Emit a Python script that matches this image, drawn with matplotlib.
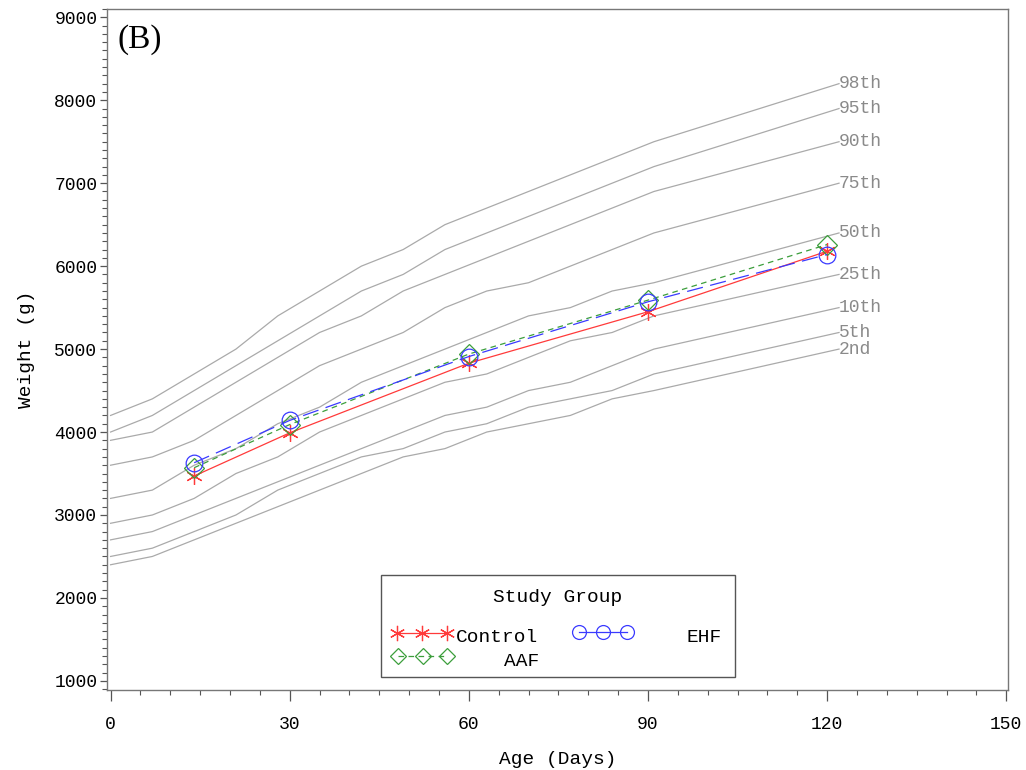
import matplotlib
matplotlib.use("Agg")
import matplotlib.pyplot as plt
from matplotlib.lines import Line2D
from matplotlib.patches import Rectangle
from matplotlib.ticker import MultipleLocator

# ---- reference percentile curves (days, weight in g) ----
ref_days = [0, 7, 14, 21, 28, 35, 42, 49, 56, 63, 70, 77, 84, 91, 122]
p98 = [4200, 4400, 4700, 5000, 5400, 5700, 6000, 6200, 6500, 6700, 6900, 7100, 7300, 7500, 8200]
p95 = [4000, 4200, 4500, 4800, 5100, 5400, 5700, 5900, 6200, 6400, 6600, 6800, 7000, 7200, 7900]
p90 = [3900, 4000, 4300, 4600, 4900, 5200, 5400, 5700, 5900, 6100, 6300, 6500, 6700, 6900, 7500]
p75 = [3600, 3700, 3900, 4200, 4500, 4800, 5000, 5200, 5500, 5700, 5800, 6000, 6200, 6400, 7000]
p50 = [3200, 3300, 3600, 3800, 4100, 4300, 4600, 4800, 5000, 5200, 5400, 5500, 5700, 5800, 6400]
p25 = [2900, 3000, 3200, 3500, 3700, 4000, 4200, 4400, 4600, 4700, 4900, 5100, 5200, 5400, 5900]
p10 = [2700, 2800, 3000, 3200, 3400, 3600, 3800, 4000, 4200, 4300, 4500, 4600, 4800, 5000, 5500]
p05 = [2500, 2600, 2800, 3000, 3300, 3500, 3700, 3800, 4000, 4100, 4300, 4400, 4500, 4700, 5200]
p02 = [2400, 2500, 2700, 2900, 3100, 3300, 3500, 3700, 3800, 4000, 4100, 4200, 4400, 4500, 5000]
pct_labels = ["98th", "95th", "90th", "75th", "50th", "25th", "10th", "5th", "2nd"]

# ---- study groups ----
visit_days = [14, 30, 60, 90, 120]
control = [3470, 3990, 4830, 5450, 6180]
aaf = [3570, 4090, 4940, 5590, 6260]
ehf = [3630, 4140, 4910, 5570, 6140]

mono = "Liberation Mono"
fig = plt.figure(figsize=(10.26, 7.70), dpi=100)
ax = fig.add_axes([107/1026, 1 - 690/770, (1008-107)/1026, (690-9)/770])

gray = "#aaaaaa"
for vals, lab in zip([p98, p95, p90, p75, p50, p25, p10, p05, p02], pct_labels):
    ax.plot(ref_days, vals, color=gray, lw=0.9, zorder=1)
    ax.text(ref_days[-1], vals[-1], lab, color="#8a8a8a", family=mono,
            fontsize=13, ha="left", va="center")

red, green, blue = "#ff3a3a", "#3c9e3c", "#3a3aff"
ax.plot(visit_days, control, color=red, lw=0.9, marker=(6, 2, 0), ms=12,
        mew=0.9, zorder=3)
ax.plot(visit_days, aaf, color=green, lw=0.9, dashes=(4.5, 3.5), marker="D",
        ms=10, mfc="none", mec=green, mew=0.9, zorder=3)
ax.plot(visit_days, ehf, color=blue, lw=0.9, dashes=(13, 6), marker="o",
        ms=12, mfc="none", mec=blue, mew=0.9, zorder=3)

ax.set_xlim(-0.6, 150.3)
ax.set_ylim(890, 9100)
ax.xaxis.set_major_locator(MultipleLocator(30))
ax.xaxis.set_minor_locator(MultipleLocator(5))
ax.yaxis.set_major_locator(MultipleLocator(1000))
ax.yaxis.set_minor_locator(MultipleLocator(100))
ax.tick_params(axis="both", which="major", direction="out", width=0.9,
               color="#555555", labelsize=13)
ax.tick_params(axis="x", which="major", length=8, pad=11)
ax.tick_params(axis="y", which="major", length=5, pad=2)
ax.tick_params(axis="both", which="minor", direction="out", length=3.5,
               width=0.8, color="#555555")
for lbl in ax.get_xticklabels() + ax.get_yticklabels():
    lbl.set_family(mono)
for s in ax.spines.values():
    s.set_color("#777777")
    s.set_linewidth(1.0)

ax.set_xlabel("Age (Days)", family=mono, fontsize=14, labelpad=13)
ax.set_ylabel("Weight (g)", family=mono, fontsize=14, labelpad=14)

ax.text(0.012, 0.978, "(B)", transform=ax.transAxes, family="Liberation Serif",
        fontsize=24, ha="left", va="top")

# ---- legend (SAS style) ----
def fx(px):
    return px / 1026

def fy(py):
    return 1 - py / 770

fig.add_artist(Rectangle((fx(381), fy(677)), fx(735) - fx(381), fy(575) - fy(677),
                         transform=fig.transFigure, fill=True, facecolor="white",
                         edgecolor="#555555", lw=1.0, zorder=5))
fig.text(fx(558), fy(597), "Study Group", family=mono, fontsize=14,
         ha="center", va="center", zorder=6)

def sample(x0, x1, y, color, dashes, marker, ms, mfc):
    xs = [fx(x0), fx((x0 + x1) / 2), fx(x1)]
    ln = Line2D(xs, [fy(y)] * 3, transform=fig.transFigure, color=color, lw=0.9,
                marker=marker, ms=ms, mfc=mfc, mec=color, mew=0.9, zorder=6)
    if dashes:
        ln.set_dashes(dashes)
    fig.add_artist(ln)

sample(397, 447, 633, red, None, (6, 2, 0), 11, red)
sample(398, 447, 656, green, (4.5, 3.5), "D", 8, "none")
sample(579, 627, 632, blue, None, "o", 10, "none")
fig.text(fx(456), fy(637), "Control", family=mono, fontsize=14, ha="left",
         va="center", zorder=6)
fig.text(fx(722), fy(637), "EHF", family=mono, fontsize=14, ha="right",
         va="center", zorder=6)
fig.text(fx(504), fy(661), "AAF", family=mono, fontsize=14, ha="left",
         va="center", zorder=6)

fig.savefig("out.png", dpi=100, facecolor="white")
